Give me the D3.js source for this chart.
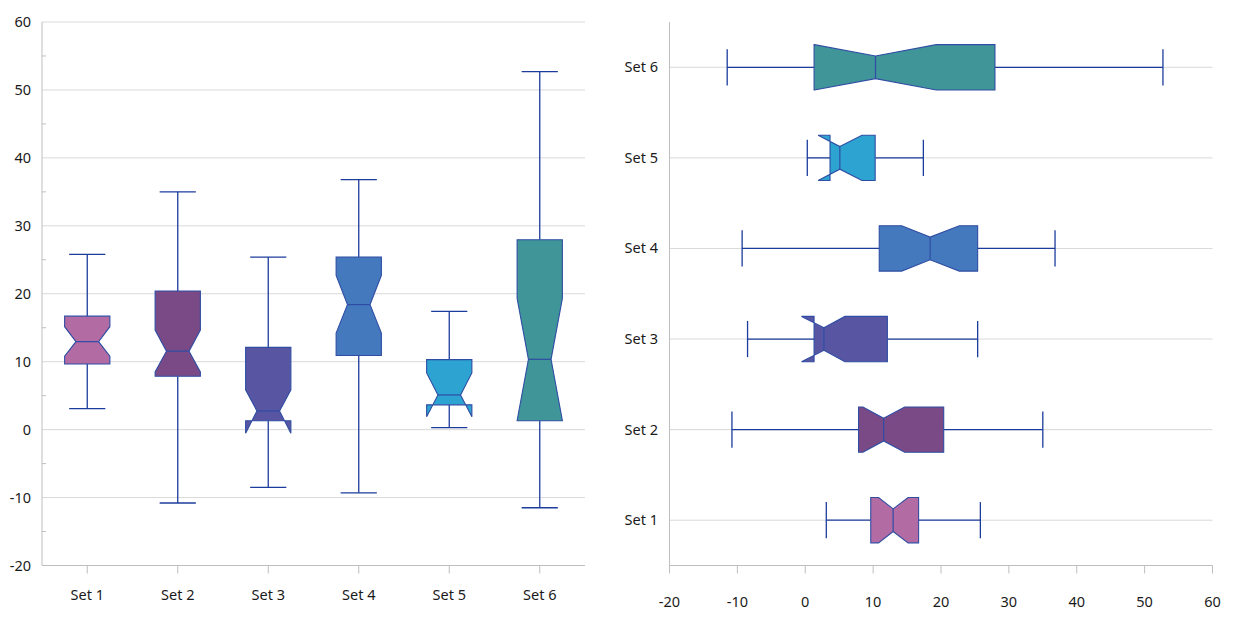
<!DOCTYPE html>
<html>
<head>
<meta charset="utf-8">
<script src="https://cdn.jsdelivr.net/npm/d3@7"></script>
<style>
  body { margin: 0; background: #fff; }
  text { font-family: "Noto Sans", "Open Sans", sans-serif; font-size: 14.5px; fill: #1a1a1a; }
</style>
</head>
<body>
<script>
var W = 1238, H = 617;

// box plot data per set
var categories = ["Set 1", "Set 2", "Set 3", "Set 4", "Set 5", "Set 6"];
var whiskerLow  = [3.1, -10.8, -8.5, -9.3, 0.3, -11.5];
var q1          = [9.65, 7.85, 1.3, 10.9, 3.65, 1.3];
var notchLow    = [10.8, 8.5, -0.55, 14.2, 1.9, 1.35];
var median      = [12.95, 11.55, 2.75, 18.4, 5.1, 10.35];
var notchHigh   = [15.15, 14.65, 5.85, 22.7, 8.35, 19.3];
var q3          = [16.7, 20.4, 12.1, 25.4, 10.3, 27.95];
var whiskerHigh = [25.8, 35.0, 25.4, 36.8, 17.4, 52.7];
var valueTicks  = [-20, -10, 0, 10, 20, 30, 40, 50, 60];
var minorTicks  = [-15, -5, 5, 15, 25, 35, 45, 55];

var fills = ["#b36ba3", "#7a4a87", "#5856a3", "#4479be", "#2da3d1", "#3f9598"];
var edge = "#2f4da3";
var whiskerCol = "#1c3c9c";
var gridCol = "#d9d9d9";
var axisCol = "#bfbfbf";

var rows = categories.map(function(c, i) {
  return { cat: c, i: i, lo: whiskerLow[i], q1: q1[i], nL: notchLow[i], med: median[i],
           nH: notchHigh[i], q3: q3[i], hi: whiskerHigh[i] };
});

var svg = d3.select("body").append("svg")
  .attr("width", W)
  .attr("height", H);

// outline of a notched box: list of [offset across, value]
function notchPoints(d, w) {
  var wi = w * 0.5;
  return [[-wi, d.med], [-w, d.nH], [-w, d.q3], [w, d.q3], [w, d.nH], [wi, d.med],
          [w, d.nL], [w, d.q1], [-w, d.q1], [-w, d.nL]];
}

// ---------- left chart, vertical ----------
var left = { x0: 42, x1: 585, y0: 22, y1: 565.5 };
var xL = d3.scaleBand().domain(categories).range([left.x0, left.x1]);
var yL = d3.scaleLinear().domain([-20, 60]).range([left.y1, left.y0]);
var gL = svg.append("g");

gL.selectAll("line.grid")
  .data(valueTicks.filter(function(t) { return t > -20; }))
  .enter().append("line")
  .attr("x1", left.x0).attr("x2", left.x1)
  .attr("y1", function(d) { return yL(d); })
  .attr("y2", function(d) { return yL(d); })
  .attr("stroke", gridCol).attr("stroke-width", 1);

gL.selectAll("line.minor")
  .data(minorTicks)
  .enter().append("line")
  .attr("x1", left.x0).attr("x2", left.x0 + 4)
  .attr("y1", function(d) { return yL(d); })
  .attr("y2", function(d) { return yL(d); })
  .attr("stroke", axisCol);

gL.append("line")
  .attr("x1", left.x0).attr("x2", left.x0)
  .attr("y1", left.y0).attr("y2", left.y1)
  .attr("stroke", axisCol);
gL.append("line")
  .attr("x1", left.x0).attr("x2", left.x1)
  .attr("y1", left.y1).attr("y2", left.y1)
  .attr("stroke", axisCol);

gL.selectAll("text.ytick")
  .data(valueTicks)
  .enter().append("text")
  .attr("x", 31)
  .attr("y", function(d) { return yL(d) + 5; })
  .attr("text-anchor", "end")
  .text(function(d) { return d; });

gL.selectAll("line.xtick")
  .data(categories)
  .enter().append("line")
  .attr("x1", function(d) { return xL(d) + xL.bandwidth() / 2; })
  .attr("x2", function(d) { return xL(d) + xL.bandwidth() / 2; })
  .attr("y1", left.y1).attr("y2", left.y1 + 8)
  .attr("stroke", axisCol);

gL.selectAll("text.xlab")
  .data(categories)
  .enter().append("text")
  .attr("x", function(d) { return xL(d) + xL.bandwidth() / 2; })
  .attr("y", 600)
  .attr("text-anchor", "middle")
  .text(function(d) { return d; });

var bwL = xL.bandwidth() * 0.25;
var boxL = gL.selectAll("g.box").data(rows).enter().append("g");
boxL.each(function(d) {
  var g = d3.select(this);
  var cx = xL(d.cat) + xL.bandwidth() / 2;
  var cap = bwL * 0.8;
  g.append("line").attr("x1", cx).attr("x2", cx)
    .attr("y1", yL(d.q3)).attr("y2", yL(d.hi))
    .attr("stroke", whiskerCol).attr("stroke-width", 1.3);
  g.append("line").attr("x1", cx).attr("x2", cx)
    .attr("y1", yL(d.q1)).attr("y2", yL(d.lo))
    .attr("stroke", whiskerCol).attr("stroke-width", 1.3);
  [d.hi, d.lo].forEach(function(v) {
    g.append("line").attr("x1", cx - cap).attr("x2", cx + cap)
      .attr("y1", yL(v)).attr("y2", yL(v))
      .attr("stroke", whiskerCol).attr("stroke-width", 1.3);
  });
  var pts = notchPoints(d, bwL).map(function(p) { return [cx + p[0], yL(p[1])]; });
  g.append("path")
    .attr("d", "M" + pts.join("L") + "Z")
    .attr("fill", fills[d.i])
    .attr("stroke", edge).attr("stroke-width", 1.1);
  g.append("line").attr("x1", cx - bwL * 0.5).attr("x2", cx + bwL * 0.5)
    .attr("y1", yL(d.med)).attr("y2", yL(d.med))
    .attr("stroke", edge).attr("stroke-width", 1.2);
});

// ---------- right chart, horizontal ----------
var right = { x0: 669.5, x1: 1212.5, y0: 22, y1: 565.5 };
var xR = d3.scaleLinear().domain([-20, 60]).range([right.x0, right.x1]);
var yR = d3.scaleBand().domain(categories.slice().reverse()).range([right.y0, right.y1]);
var gR = svg.append("g");

gR.selectAll("line.grid")
  .data(categories)
  .enter().append("line")
  .attr("x1", right.x0).attr("x2", right.x1)
  .attr("y1", function(d) { return yR(d) + yR.bandwidth() / 2; })
  .attr("y2", function(d) { return yR(d) + yR.bandwidth() / 2; })
  .attr("stroke", gridCol);

gR.append("line")
  .attr("x1", right.x0).attr("x2", right.x0)
  .attr("y1", right.y0).attr("y2", right.y1)
  .attr("stroke", axisCol);
gR.append("line")
  .attr("x1", right.x0).attr("x2", right.x1)
  .attr("y1", right.y1).attr("y2", right.y1)
  .attr("stroke", axisCol);

gR.selectAll("line.xtick")
  .data(valueTicks)
  .enter().append("line")
  .attr("x1", function(d) { return xR(d); })
  .attr("x2", function(d) { return xR(d); })
  .attr("y1", right.y1).attr("y2", right.y1 + 8)
  .attr("stroke", axisCol);

gR.selectAll("text.xlab")
  .data(valueTicks)
  .enter().append("text")
  .attr("x", function(d) { return xR(d); })
  .attr("y", 607)
  .attr("text-anchor", "middle")
  .text(function(d) { return d; });

gR.selectAll("text.ylab")
  .data(categories)
  .enter().append("text")
  .attr("x", 658)
  .attr("y", function(d) { return yR(d) + yR.bandwidth() / 2 + 5; })
  .attr("text-anchor", "end")
  .text(function(d) { return d; });

var bwR = yR.bandwidth() * 0.25;
var boxR = gR.selectAll("g.box").data(rows).enter().append("g");
boxR.each(function(d) {
  var g = d3.select(this);
  var cy = yR(d.cat) + yR.bandwidth() / 2;
  var cap = bwR * 0.8;
  g.append("line").attr("y1", cy).attr("y2", cy)
    .attr("x1", xR(d.q3)).attr("x2", xR(d.hi))
    .attr("stroke", whiskerCol).attr("stroke-width", 1.3);
  g.append("line").attr("y1", cy).attr("y2", cy)
    .attr("x1", xR(d.q1)).attr("x2", xR(d.lo))
    .attr("stroke", whiskerCol).attr("stroke-width", 1.3);
  [d.hi, d.lo].forEach(function(v) {
    g.append("line").attr("y1", cy - cap).attr("y2", cy + cap)
      .attr("x1", xR(v)).attr("x2", xR(v))
      .attr("stroke", whiskerCol).attr("stroke-width", 1.3);
  });
  var pts = notchPoints(d, bwR).map(function(p) { return [xR(p[1]), cy + p[0]]; });
  g.append("path")
    .attr("d", "M" + pts.join("L") + "Z")
    .attr("fill", fills[d.i])
    .attr("stroke", edge).attr("stroke-width", 1.1);
  g.append("line").attr("y1", cy - bwR * 0.5).attr("y2", cy + bwR * 0.5)
    .attr("x1", xR(d.med)).attr("x2", xR(d.med))
    .attr("stroke", edge).attr("stroke-width", 1.2);
});
</script>
</body>
</html>
